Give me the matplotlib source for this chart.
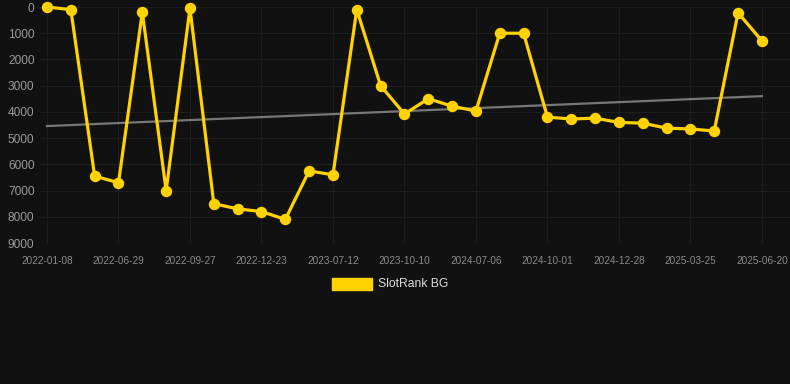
import numpy as np
import matplotlib.pyplot as plt

plt.rcParams['font.family'] = ['Liberation Sans', 'DejaVu Sans']

dates = ['2022-01-08', '', '', '2022-06-29', '', '', '2022-09-27', '', '',
         '2022-12-23', '', '', '2023-07-12', '', '', '2023-10-10', '', '',
         '2024-07-06', '', '', '2024-10-01', '', '', '2024-12-28', '', '',
         '2025-03-25', '', '', '2025-06-20']
ranks = [0, 100, 6450, 6700, 200, 7000, 50, 7500, 7700, 7800, 8100,
         6250, 6400, 100, 3000, 4080, 3500, 3780, 3970, 1000, 1000,
         4200, 4270, 4240, 4400, 4430, 4620, 4650, 4730, 220, 1290]
trend = [4540, 3400]
y_ticks = [0, 1000, 2000, 3000, 4000, 5000, 6000, 7000, 8000, 9000]

bg = '#111111'
gold = '#FFD200'

fig = plt.figure(figsize=(7.9, 3.84), dpi=100, facecolor=bg)
ax = fig.add_axes([40/790, 1-243/384, 750/790, 236/384], facecolor=bg)

x = np.arange(len(ranks))
ax.plot([x[0], x[-1]], trend, color='#777777', lw=1.6, zorder=2)
ax.plot(x, ranks, color=gold, lw=2.3, marker='o', ms=7.2,
        solid_joinstyle='miter', clip_on=False, zorder=3, label='SlotRank BG')

ax.set_ylim(9000, 0)
ax.set_xlim(-0.294, 31.18)
ax.set_yticks(y_ticks)
ax.set_yticklabels([str(v) for v in y_ticks])
tick_idx = [i for i, d in enumerate(dates) if d]
ax.set_xticks(tick_idx)
ax.set_xticklabels([dates[i] for i in tick_idx])

ax.tick_params(axis='y', length=0, pad=4, labelsize=8.6, labelcolor='#9a9a9a')
ax.tick_params(axis='x', length=0, pad=9, labelsize=7.2, labelcolor='#8a8a8a')
ax.grid(True, color='#1e1e1e', lw=0.8)
ax.set_axisbelow(True)
for s in ax.spines.values():
    s.set_visible(False)

# legend: swatch + label below the chart
fig.patches.append(plt.Rectangle((332/790, 1-290/384), 40/790, 12/384,
                                 transform=fig.transFigure, color=gold))
fig.text(378/790, 1-284/384, 'SlotRank BG', color='#dddddd', fontsize=8.7,
         va='center', ha='left')

fig.savefig('out.png', dpi=100, facecolor=bg)
